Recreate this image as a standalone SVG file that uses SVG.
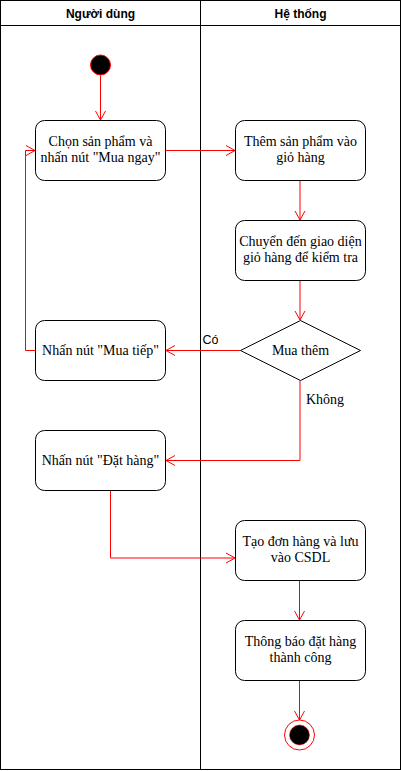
<svg xmlns="http://www.w3.org/2000/svg" width="401" height="771" viewBox="0 0 401 771">
<defs>
<marker id="arr" markerWidth="12" markerHeight="12" refX="10" refY="5" orient="auto" markerUnits="userSpaceOnUse" overflow="visible">
<path d="M1,0 L10,5 L1,10" fill="none" stroke="#FF0000" stroke-width="1"/>
</marker>
</defs>
<style>
.lane{fill:none;stroke:#000;stroke-width:1}
.node{fill:#fff;stroke:#000;stroke-width:1}
.t{font-family:"Liberation Serif","Times New Roman",serif;font-size:14px;fill:#000;text-anchor:middle}
.h{font-family:"Liberation Sans",Arial,sans-serif;font-size:12px;font-weight:bold;fill:#000;text-anchor:middle}
.l{font-family:"Liberation Sans",Arial,sans-serif;font-size:12.5px;fill:#000;text-anchor:middle}
.c{fill:none;stroke:#FF0000;stroke-width:1}
</style>
<rect width="401" height="771" fill="#fff"/>
<g id="lanes">
<rect class="lane" x="0.5" y="0.5" width="400" height="769"/>
<line class="lane" x1="0.5" y1="25.5" x2="400.5" y2="25.5"/>
<line class="lane" x1="200.5" y1="0.5" x2="200.5" y2="769.5"/>
<text class="h" x="100.5" y="17.5">Người dùng</text>
<text class="h" x="300.5" y="17.5">Hệ thống</text>
</g>
<g id="connectors">
<path class="c" d="M100.5,75.5 L100.5,120" marker-end="url(#arr)"/>
<path class="c" d="M165.5,150.5 L235,150.5" marker-end="url(#arr)"/>
<path class="c" d="M300,180.5 L300,220" marker-end="url(#arr)"/>
<path class="c" d="M300,280.5 L300,320" marker-end="url(#arr)"/>
<path class="c" d="M240.5,350.5 L166,350.5" marker-end="url(#arr)"/>
<path class="c" d="M35.5,350.5 L25.5,350.5 L25.5,150.5 L35,150.5" marker-end="url(#arr)"/>
<path class="c" d="M300,380.5 L300,460.5 L166,460.5" marker-end="url(#arr)"/>
<path class="c" d="M110.5,490.5 L110.5,558 L235,558" marker-end="url(#arr)"/>
<path class="c" d="M299.5,580.5 L299.5,620" marker-end="url(#arr)"/>
<path class="c" d="M299.5,680.5 L299.5,720" marker-end="url(#arr)"/>
<text class="l" x="210.5" y="343.5">Có</text>
<text class="t" x="325" y="404">Không</text>
</g>
<g id="start">
<circle cx="100.5" cy="65" r="10" fill="#000" stroke="#FF0000" stroke-width="1"/>
</g>
<g id="chon">
<rect class="node" x="35.5" y="120.5" width="130" height="60" rx="9"/>
<text class="t" x="100.5" y="145.5">Chọn sản phẩm và</text>
<text class="t" x="100.5" y="162">nhấn nút "Mua ngay"</text>
</g>
<g id="them">
<rect class="node" x="235.5" y="120.5" width="130" height="60" rx="9"/>
<text class="t" x="300.5" y="145.5">Thêm sản phẩm vào</text>
<text class="t" x="300.5" y="162">giỏ hàng</text>
</g>
<g id="chuyen">
<rect class="node" x="235.5" y="220.5" width="130" height="60" rx="9"/>
<text class="t" x="300.5" y="245.5">Chuyển đến giao diện</text>
<text class="t" x="300.5" y="262">giỏ hàng để kiểm tra</text>
</g>
<g id="muathem">
<path class="node" d="M300.5,320.5 L360.5,350.5 L300.5,380.5 L240.5,350.5 Z"/>
<text class="t" x="300.5" y="355">Mua thêm</text>
</g>
<g id="muatiep">
<rect class="node" x="35.5" y="320.5" width="130" height="60" rx="9"/>
<text class="t" x="100.5" y="355">Nhấn nút "Mua tiếp"</text>
</g>
<g id="dathang">
<rect class="node" x="35.5" y="430.5" width="130" height="60" rx="9"/>
<text class="t" x="100.5" y="465">Nhấn nút "Đặt hàng"</text>
</g>
<g id="taodon">
<rect class="node" x="235.5" y="520.5" width="130" height="60" rx="9"/>
<text class="t" x="300.5" y="545.5">Tạo đơn hàng và lưu</text>
<text class="t" x="300.5" y="562">vào CSDL</text>
</g>
<g id="thongbao">
<rect class="node" x="235.5" y="620.5" width="130" height="60" rx="9"/>
<text class="t" x="300.5" y="645.5">Thông báo đặt hàng</text>
<text class="t" x="300.5" y="662">thành công</text>
</g>
<g id="end">
<circle cx="299.5" cy="735" r="15" fill="#fff" stroke="#FF0000" stroke-width="1"/>
<circle cx="299.5" cy="735" r="10" fill="#000" stroke="#FF0000" stroke-width="0.5"/>
</g>
</svg>
